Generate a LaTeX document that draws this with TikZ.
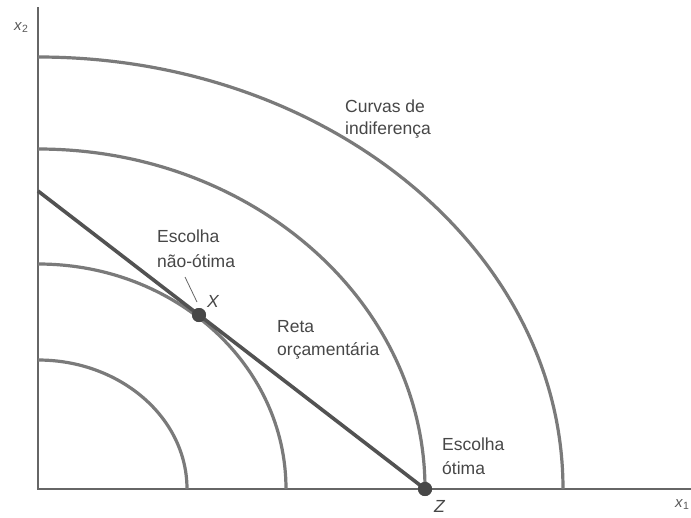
\documentclass[tikz,border=0pt]{standalone}
\usepackage{fontspec}
\setmainfont{Liberation Sans}
\begin{document}
\begin{tikzpicture}[x=1pt,y=-1pt,
  axis/.style={draw=black!60,line width=1.8pt},
  icurve/.style={draw=black!52,line width=3.2pt},
  budget/.style={draw=black!68,line width=3.6pt},
  dot/.style={circle,fill=black!72,inner sep=0pt,minimum size=14pt},
  lbl/.style={text=black!72,font=\fontsize{17.5}{20}\selectfont,inner sep=0pt,anchor=base west},
  axlbl/.style={text=black!65,font=\fontsize{15}{18}\selectfont,inner sep=0pt,anchor=base west},
  leader/.style={draw=black!60,line width=0.8pt}]
\useasboundingbox (0,0) rectangle (691,517);
\fill[white] (0,0) rectangle (691,517);
% axes
\coordinate (O) at (38,489);
\coordinate (ytop) at (38,7);
\coordinate (xend) at (691,489);
\draw[axis] (ytop) -- (O) -- (xend);
% indifference curves (quarter ellipses centred at O)
\coordinate (c1) at (38,360);
\coordinate (c2) at (38,264);
\coordinate (c3) at (38,149);
\coordinate (c4) at (38,57);
\draw[icurve] (c1) arc[start angle=90,end angle=0,x radius=149pt,y radius=129pt];
\draw[icurve] (c2) arc[start angle=90,end angle=0,x radius=248pt,y radius=225pt];
\draw[icurve] (c3) arc[start angle=90,end angle=0,x radius=387pt,y radius=340pt];
\draw[icurve] (c4) arc[start angle=90,end angle=0,x radius=525pt,y radius=432pt];
% budget line
\coordinate (B) at (38,191);
\node[dot] (X) at (199,315) {};
\node[dot] (Z) at (425,489) {};
\draw[budget] (B) -- (Z.center);
\node[dot] at (X) {};
\node[dot] at (Z) {};
% labels
\node[axlbl] (x2) at (14,30) {\textit{x}\textsubscript{2}};
\node[axlbl] (x1) at (675,507) {\textit{x}\textsubscript{1}};
\node[lbl] (cv1) at (345,112) {Curvas de};
\node[lbl] (cv2) at (345,134) {indiferença};
\node[lbl] (no1) at (157,242) {Escolha};
\node[lbl] (no2) at (157,267) {não-ótima};
\node[lbl] (rt1) at (277,332) {Reta};
\node[lbl] (rt2) at (277,355) {orçamentária};
\node[lbl] (op1) at (442,450) {Escolha};
\node[lbl] (op2) at (442,474) {ótima};
\node[lbl] (Xl) at (207,307) {\textit{X}};
\node[lbl] (Zl) at (434,512) {\textit{Z}};
\coordinate (ld1) at (185,277);
\coordinate (ld2) at (197,302);
\draw[leader] (ld1) -- (ld2);
\end{tikzpicture}
\end{document}
